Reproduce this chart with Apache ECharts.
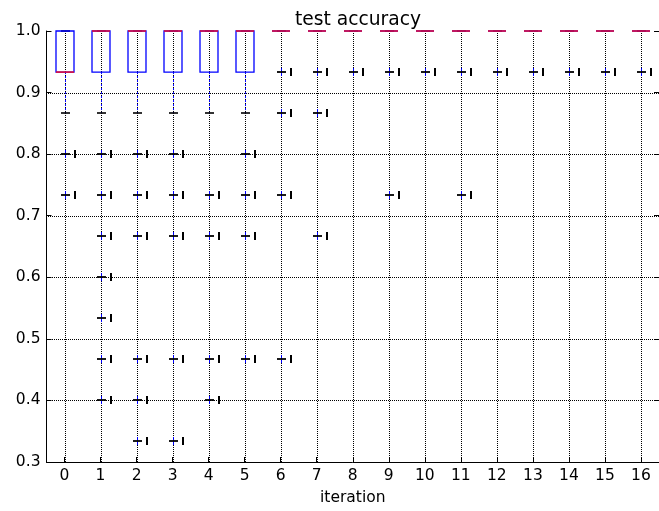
<!DOCTYPE html>
<html>
<head>
<meta charset="utf-8">
<script src="https://cdn.jsdelivr.net/npm/echarts@6/dist/echarts.min.js"></script>
<style>
html,body{margin:0;padding:0;background:#fff;}
#chart{width:659px;height:511px;}
</style>
</head>
<body>
<div id="chart"></div>
<script>
// ---- data ----
var categories = ['0','1','2','3','4','5','6','7','8','9','10','11','12','13','14','15','16'];
var lowerWhisker = [0.8667,0.8667,0.8667,0.8667,0.8667,0.8667,1.0,1.0,1.0,1.0,1.0,1.0,1.0,1.0,1.0,1.0,1.0];
var q1Values     = [0.9333,0.9333,0.9333,0.9333,0.9333,0.9333,1.0,1.0,1.0,1.0,1.0,1.0,1.0,1.0,1.0,1.0,1.0];
var medianValues = [0.9333,1.0,1.0,1.0,1.0,1.0,1.0,1.0,1.0,1.0,1.0,1.0,1.0,1.0,1.0,1.0,1.0];
var q3Values     = [1.0,1.0,1.0,1.0,1.0,1.0,1.0,1.0,1.0,1.0,1.0,1.0,1.0,1.0,1.0,1.0,1.0];
var upperWhisker = [1.0,1.0,1.0,1.0,1.0,1.0,1.0,1.0,1.0,1.0,1.0,1.0,1.0,1.0,1.0,1.0,1.0];
var fliers = [
  [0.8, 0.7333],
  [0.8, 0.7333, 0.6667, 0.6, 0.5333, 0.4667, 0.4],
  [0.8, 0.7333, 0.6667, 0.4667, 0.4, 0.3333],
  [0.8, 0.7333, 0.6667, 0.4667, 0.3333],
  [0.7333, 0.6667, 0.4667, 0.4],
  [0.8, 0.7333, 0.6667, 0.4667],
  [0.9333, 0.8667, 0.7333, 0.4667],
  [0.9333, 0.8667, 0.6667],
  [0.9333],
  [0.9333, 0.7333],
  [0.9333],
  [0.9333, 0.7333],
  [0.9333],
  [0.9333],
  [0.9333],
  [0.9333],
  [0.9333]
];
var yTicks = {min: 0.3, max: 1.0, interval: 0.1};
var yGridValues = [0.4, 0.5, 0.6, 0.7, 0.8, 0.9];

// ---- build ----
var boxData = categories.map(function(c, i){
  return [i, lowerWhisker[i], q1Values[i], medianValues[i], q3Values[i], upperWhisker[i]];
});
var flierData = [];
fliers.forEach(function(list, i){ list.forEach(function(v){ flierData.push([i, v]); }); });

var FONT = 'DejaVu Sans';
var chart = echarts.init(document.getElementById('chart'), null, {renderer:'canvas'});

function px(v){ return Math.round(v) + 0.5; }

function boxRender(params, api){
  var i = api.value(0);
  var lo = api.coord([i, api.value(1)]);
  var q1 = api.coord([i, api.value(2)]);
  var md = api.coord([i, api.value(3)]);
  var q3 = api.coord([i, api.value(4)]);
  var hi = api.coord([i, api.value(5)]);
  var top = api.coord([i, yTicks.max]);
  var bot = api.coord([i, yTicks.min]);
  var bw = api.size([1, 0])[0] * 0.5;
  var cw = bw * 0.5;
  var x = px(lo[0]);
  var children = [];
  if (params.dataIndex === 0) {
    var cs = params.coordSys;
    var gx0 = Math.round(cs.x) + 1, gx1 = Math.round(cs.x + cs.width);
    yGridValues.forEach(function(v){
      var yy = px(api.coord([i, v])[1]);
      children.push({type:'line', shape:{x1:gx0, y1:yy, x2:gx1, y2:yy},
        style:{stroke:'#000', lineWidth:1, lineDash:[1,1]}, silent:true});
    });
  }
  children.push({type:'line', shape:{x1:x, y1:Math.round(top[1]), x2:x, y2:Math.round(bot[1])},
    style:{stroke:'#000', lineWidth:1, lineDash:[1,1]}, silent:true});
  children.push({type:'line', shape:{x1:x, y1:q1[1], x2:x, y2:lo[1]},
    style:{stroke:'#0000ff', lineWidth:1, lineDash:[2,2]}});
  children.push({type:'line', shape:{x1:x, y1:q3[1], x2:x, y2:hi[1]},
    style:{stroke:'#0000ff', lineWidth:1, lineDash:[2,2]}});
  children.push({type:'line', shape:{x1:x-cw/2, y1:Math.round(lo[1]), x2:x+cw/2, y2:Math.round(lo[1])},
    style:{stroke:'#000', lineWidth:1.6}});
  children.push({type:'line', shape:{x1:x-cw/2, y1:Math.round(hi[1]), x2:x+cw/2, y2:Math.round(hi[1])},
    style:{stroke:'#000', lineWidth:1.6}});
  children.push({type:'rect', shape:{x:Math.round(x-bw/2), y:q3[1], width:Math.round(bw), height:q1[1]-q3[1]},
    style:{fill:null, stroke:'#0000ff', lineWidth:1.3}});
  children.push({type:'line', shape:{x1:Math.round(x-bw/2), y1:md[1], x2:Math.round(x-bw/2)+Math.round(bw), y2:md[1]},
    style:{stroke:'#e0103a', lineWidth:1.6}});
  return {type:'group', children:children};
}

function flierRender(params, api){
  var p = api.coord([api.value(0), api.value(1)]);
  var x = px(p[0]), y = Math.round(p[1]);
  return {type:'group', children:[
    {type:'line', shape:{x1:x, y1:y-4, x2:x, y2:y+4}, style:{stroke:'#0000ff', lineWidth:1}},
    {type:'line', shape:{x1:x-4.5, y1:y, x2:x+4.5, y2:y}, style:{stroke:'#000', lineWidth:1.8}},
    {type:'line', shape:{x1:x+9.5, y1:y-4, x2:x+9.5, y2:y+4}, style:{stroke:'#000', lineWidth:2}}
  ]};
}

var option = {
  animation: false,
  backgroundColor: '#fff',
  title: {
    text: 'test accuracy',
    left: 353, top: 6, textAlign: 'center',
    textStyle: {fontFamily: FONT, fontSize: 18.7, fontWeight: 'normal', color: '#000'}
  },
  grid: {left: 46.5, right: -2, top: 31, bottom: 49, containLabel: false},
  xAxis: {
    type: 'category', data: categories, boundaryGap: true,
    name: 'iteration', nameLocation: 'middle', nameGap: 28,
    nameTextStyle: {fontFamily: FONT, fontSize: 15.5, color: '#000'},
    axisLine: {show: true, lineStyle: {color: '#000', width: 1}},
    axisTick: {show: true, inside: true, alignWithLabel: true, length: 5, lineStyle: {color: '#000'}},
    axisLabel: {fontFamily: FONT, fontSize: 15.5, color: '#000', margin: 6},
    splitLine: {show: false}
  },
  yAxis: [{
    type: 'value', min: yTicks.min, max: yTicks.max, interval: yTicks.interval,
    axisLine: {show: true, lineStyle: {color: '#000', width: 1}},
    axisTick: {show: true, inside: true, length: 5, lineStyle: {color: '#000'}},
    axisLabel: {fontFamily: FONT, fontSize: 15.5, color: '#000', margin: 6,
      formatter: function(v){ return v.toFixed(1); }},
    splitLine: {show: false}
  }, {
    type: 'value', position: 'right', min: yTicks.min, max: yTicks.max, interval: yTicks.interval,
    axisLine: {show: false},
    axisTick: {show: true, inside: true, length: 5, lineStyle: {color: '#000'}},
    axisLabel: {show: false},
    splitLine: {show: false}
  }],
  series: [{
    type: 'custom', renderItem: boxRender, data: boxData, clip: false,
    encode: {x: 0, y: [1,2,3,4,5]}, z: 2
  }, {
    type: 'custom', renderItem: flierRender, data: flierData, clip: false,
    encode: {x: 0, y: 1}, z: 3
  }]
};
chart.setOption(option);
</script>
</body>
</html>
